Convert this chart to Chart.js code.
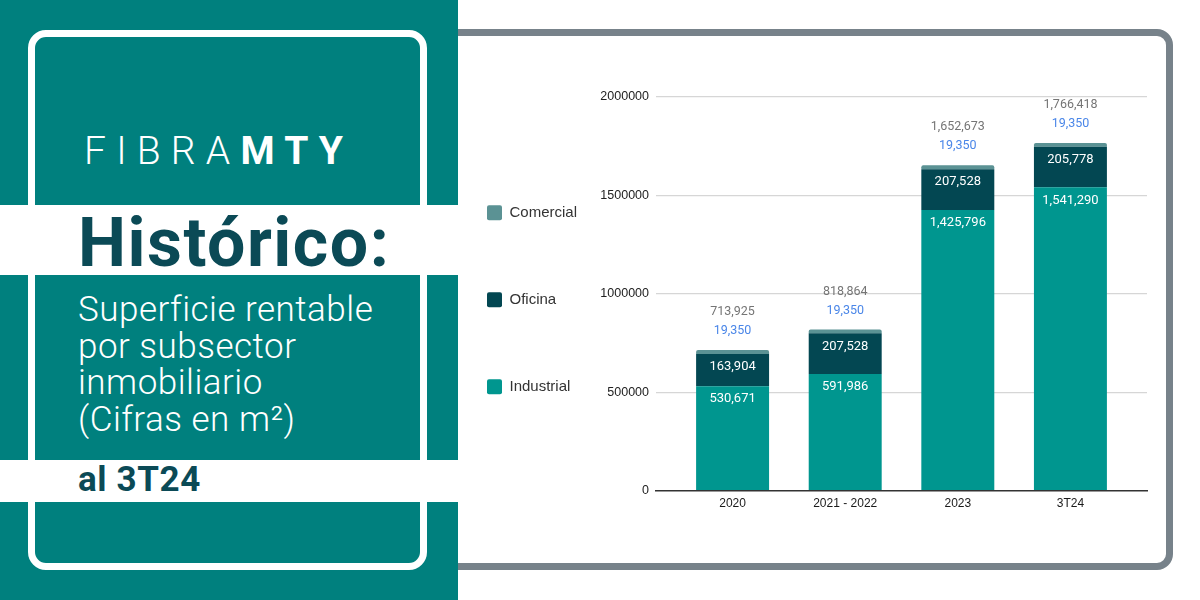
<!DOCTYPE html>
<html>
<head>
<meta charset="utf-8">
<script src="https://cdn.jsdelivr.net/npm/chart.js@4.4.1/dist/chart.umd.min.js"></script>
<style>
  html, body { margin: 0; padding: 0; width: 1200px; height: 600px; overflow: hidden; background: #fff; }
  #card { position: absolute; left: 400px; top: 29px; width: 773px; height: 541px; box-sizing: border-box;
          border: 7px solid #77828a; border-radius: 16px; background: #fff; }
  #chartWrap { position: absolute; left: 0; top: 0; width: 1200px; height: 600px; }
  #left { position: absolute; left: 0; top: 0; width: 458px; height: 600px; background: #00807e; overflow: hidden; }
  #frame { position: absolute; left: 28px; top: 30px; width: 399px; height: 540px; box-sizing: border-box;
           border: 7px solid #fff; border-radius: 18px; }
  .band { position: absolute; left: 0; width: 458px; background: #fff; }
  .txt { position: absolute; font-family: Roboto, sans-serif; white-space: nowrap; line-height: 1; }
  #logo { left: 84px; top: 132px; font-size: 39px; color: #fff; letter-spacing: 10.2px; }
  #logo .l { font-weight: 300; }
  #logo .b { font-weight: 700; }
  #title { left: 78px; top: 209px; font-size: 68px; font-weight: 700; color: #0b4a56; letter-spacing: 1.5px; }
  #sub { left: 78px; top: 292px; font-size: 35px; font-weight: 300; color: #fff; line-height: 36.7px; letter-spacing: 0.5px; }
  #al { left: 78px; top: 462px; font-size: 35px; font-weight: 700; color: #0b4a56; letter-spacing: 0.6px; }
</style>
</head>
<body>
<div id="card"></div>
<div id="chartWrap"><canvas id="c" width="1200" height="600"></canvas></div>
<div id="left">
  <div id="frame"></div>
  <div class="band" style="top:205px;height:70px;"></div>
  <div class="band" style="top:460px;height:42px;"></div>
  <div class="txt" id="logo"><span class="l">FIBRA</span><span class="b">MTY</span></div>
  <div class="txt" id="title">Histórico:</div>
  <div class="txt" id="sub">Superficie rentable<br>por subsector<br>inmobiliario<br>(Cifras en m²)</div>
  <div class="txt" id="al">al 3T24</div>
</div>
<script>
const categories = ['2020', '2021 - 2022', '2023', '3T24'];
const industrial = [530671, 591986, 1425796, 1541290];
const oficina = [163904, 207528, 207528, 205778];
const comercial = [19350, 19350, 19350, 19350];
const totals = [713925, 818864, 1652673, 1766418];
const yTicks = [0, 500000, 1000000, 1500000, 2000000];

const fmt = v => v.toLocaleString('en-US');
const toPoints = arr => arr.map((v, i) => ({ x: i, y: v }));

const labelPlugin = {
  id: 'barLabels',
  afterDatasetsDraw(chart) {
    const ctx = chart.ctx;
    ctx.save();
    ctx.textAlign = 'center';
    ctx.textBaseline = 'middle';
    [0, 1].forEach(di => {
      const meta = chart.getDatasetMeta(di);
      const vals = chart.data.datasets[di].data;
      ctx.font = '400 13px Roboto';
      ctx.fillStyle = '#ffffff';
      meta.data.forEach((bar, j) => {
        ctx.fillText(fmt(vals[j].y), bar.x, bar.y + 13);
      });
    });
    const top = chart.getDatasetMeta(2);
    top.data.forEach((bar, j) => {
      ctx.font = '400 12.5px Roboto';
      ctx.fillStyle = '#4a86e8';
      ctx.fillText(fmt(comercial[j]), bar.x, bar.y - 19);
      ctx.fillStyle = '#757575';
      ctx.fillText(fmt(totals[j]), bar.x, bar.y - 38);
    });
    ctx.restore();
  }
};

Chart.defaults.font.family = "'Liberation Sans', Arial, sans-serif";

new Chart(document.getElementById('c'), {
  type: 'bar',
  data: {
    datasets: [
      { label: 'Industrial', data: toPoints(industrial), backgroundColor: '#00968f', borderWidth: 0 },
      { label: 'Oficina', data: toPoints(oficina), backgroundColor: '#034752', borderWidth: 0 },
      { label: 'Comercial', data: toPoints(comercial), backgroundColor: '#5b9294', borderWidth: 0,
        borderRadius: { topLeft: 3, topRight: 3, bottomLeft: 0, bottomRight: 0 }, borderSkipped: false }
    ]
  },
  options: {
    responsive: false,
    animation: false,
    layout: { padding: { left: 415, right: 53, top: 97, bottom: 83 } },
    categoryPercentage: 0.648,
    barPercentage: 1,
    plugins: {
      tooltip: { enabled: false },
      legend: {
        position: 'left',
        align: 'start',
        reverse: true,
        title: { display: true, text: '', font: { size: 1 }, padding: { top: 35, bottom: 0 } },
        labels: {
          boxWidth: 15, boxHeight: 15, padding: 72, useBorderRadius: true, borderRadius: 2,
          color: '#333', font: { size: 15 }
        }
      }
    },
    scales: {
      x: {
        type: 'linear',
        stacked: true,
        offset: false,
        min: -0.68, max: 3.68,
        grid: { display: false, drawTicks: false },
        border: { display: true, color: '#333', width: 1.5 },
        ticks: {
          stepSize: 1, includeBounds: false, padding: 6,
          color: '#1a1a1a', font: { size: 12 },
          callback: v => categories[v] !== undefined && Number.isInteger(v) ? categories[v] : ''
        }
      },
      y: {
        stacked: true,
        min: 0, max: 2000000,
        afterFit: s => { s.width = 69; },
        afterBuildTicks: s => { s.ticks = yTicks.map(v => ({ value: v })); },
        grid: { color: ctx => ctx.tick && ctx.tick.value === 0 ? 'rgba(0,0,0,0)' : '#d6d6d6', lineWidth: 1.2, drawTicks: false },
        border: { display: false },
        ticks: { padding: 7, color: '#222', font: { size: 12.5 }, callback: v => String(v) }
      }
    }
  },
  plugins: [labelPlugin]
});
</script>
</body>
</html>
